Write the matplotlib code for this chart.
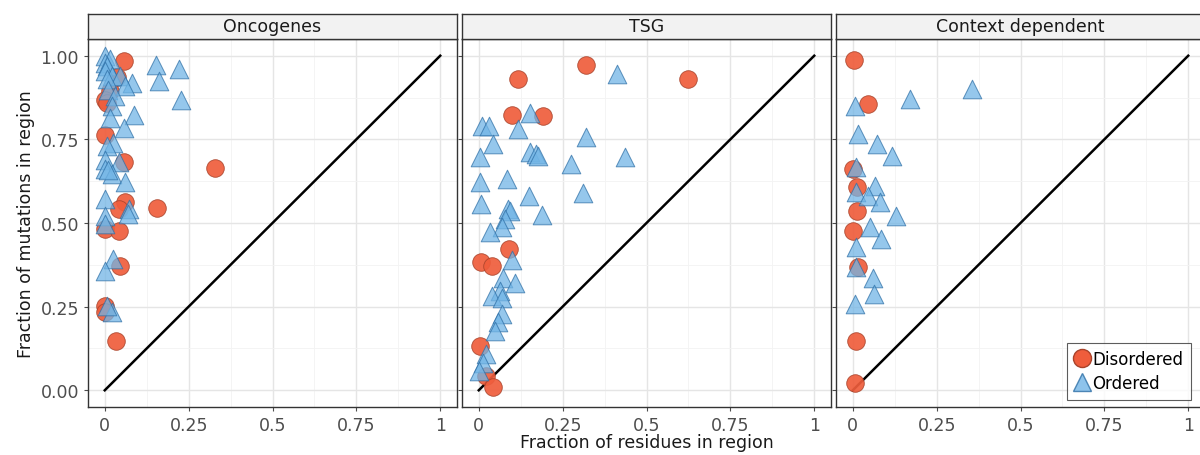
import matplotlib
matplotlib.use("Agg")
import matplotlib.pyplot as plt
from matplotlib.lines import Line2D
import numpy as np

PANELS = ["Oncogenes", "TSG", "Context dependent"]

# Oncogenes
onc_dis_x = [0.056, 0.035, 0.016, 0.001, 0.006, 0.001, 0.056, 0.328, 0.061, 0.155, 0.041,
             0.0, 0.041, 0.046, 0.001, 0.0, 0.033]
onc_dis_y = [0.985, 0.936, 0.894, 0.869, 0.860, 0.764, 0.681, 0.665, 0.562, 0.545, 0.542,
             0.482, 0.477, 0.372, 0.252, 0.233, 0.147]
onc_ord_x = [0.001, 0.016, 0.0, 0.006, 0.001, 0.021, 0.046, 0.081, 0.061, 0.006, 0.011,
             0.031, 0.021, 0.016, 0.086, 0.056, 0.026, 0.006, 0.152, 0.221, 0.161, 0.226,
             0.0, 0.041, 0.001, 0.021, 0.061, 0.001, 0.001, 0.071, 0.001, 0.026, 0.001,
             0.021, 0.006, 0.07, 0.01]
onc_ord_y = [0.999, 0.989, 0.979, 0.969, 0.954, 0.939, 0.939, 0.919, 0.909, 0.929, 0.899,
             0.879, 0.849, 0.814, 0.824, 0.784, 0.740, 0.729, 0.971, 0.959, 0.923, 0.869,
             0.687, 0.681, 0.662, 0.647, 0.622, 0.572, 0.522, 0.542, 0.497, 0.392, 0.357,
             0.233, 0.252, 0.527, 0.657]

# TSG
tsg_dis_x = [0.117, 0.319, 0.625, 0.098, 0.192, 0.09, 0.008, 0.038, 0.003, 0.021, 0.043]
tsg_dis_y = [0.929, 0.973, 0.931, 0.823, 0.821, 0.422, 0.382, 0.372, 0.133, 0.043, 0.011]
tsg_ord_x = [0.413, 0.152, 0.011, 0.031, 0.117, 0.319, 0.041, 0.005, 0.152, 0.172, 0.176,
             0.436, 0.274, 0.003, 0.083, 0.15, 0.311, 0.008, 0.087, 0.187, 0.093, 0.078,
             0.068, 0.033, 0.098, 0.073, 0.107, 0.063, 0.038, 0.068, 0.068, 0.058, 0.048,
             0.023, 0.013, 0.0]
tsg_ord_y = [0.946, 0.829, 0.791, 0.791, 0.781, 0.757, 0.737, 0.697, 0.712, 0.707, 0.700,
             0.697, 0.677, 0.622, 0.632, 0.582, 0.590, 0.557, 0.542, 0.524, 0.537, 0.512,
             0.487, 0.472, 0.389, 0.337, 0.322, 0.297, 0.282, 0.277, 0.228, 0.203, 0.178,
             0.108, 0.083, 0.058]

# Context dependent
ctx_dis_x = [0.003, 0.046, 0.001, 0.014, 0.014, 0.001, 0.016, 0.011, 0.006]
ctx_dis_y = [0.986, 0.856, 0.662, 0.609, 0.537, 0.477, 0.367, 0.148, 0.023]
ctx_ord_x = [0.354, 0.17, 0.008, 0.016, 0.071, 0.117, 0.011, 0.066, 0.011, 0.046, 0.081,
             0.13, 0.051, 0.084, 0.011, 0.011, 0.061, 0.064, 0.006]
ctx_ord_y = [0.901, 0.871, 0.851, 0.766, 0.737, 0.701, 0.667, 0.612, 0.592, 0.582, 0.562,
             0.522, 0.487, 0.452, 0.427, 0.367, 0.337, 0.287, 0.257]

DIS = [(onc_dis_x, onc_dis_y), (tsg_dis_x, tsg_dis_y), (ctx_dis_x, ctx_dis_y)]
ORD = [(onc_ord_x, onc_ord_y), (tsg_ord_x, tsg_ord_y), (ctx_ord_x, ctx_ord_y)]

RED = "#EF5D3C"
RED_EDGE = "#A9432B"
BLUE = "#72B5E6"
BLUE_EDGE = "#2E6FA6"
TICK_COLOR = "#4D4D4D"
W, H = 1200, 456

fig = plt.figure(figsize=(12, 4.56), dpi=100)

lefts = [88, 462, 836]
pw = 369
top, bottom = 40, 408
strip_h = 25
xticks = [0, 0.25, 0.5, 0.75, 1]
xlabels = ["0", "0.25", "0.5", "0.75", "1"]
yticks = [0, 0.25, 0.5, 0.75, 1]
ylabels = ["0.00", "0.25", "0.50", "0.75", "1.00"]

for i, name in enumerate(PANELS):
    ax = fig.add_axes([lefts[i] / W, (H - bottom) / H, pw / W, (bottom - top) / H])
    ax.set_xlim(-0.05, 1.05)
    ax.set_ylim(-0.05, 1.05)
    ax.set_xticks(xticks)
    ax.set_xticklabels(xlabels)
    ax.set_yticks(yticks)
    ax.set_xticks([0.125, 0.375, 0.625, 0.875], minor=True)
    ax.set_yticks([0.125, 0.375, 0.625, 0.875], minor=True)
    if i == 0:
        ax.set_yticklabels(ylabels)
    else:
        ax.set_yticklabels([])
        ax.tick_params(axis="y", length=0)
    ax.grid(True, which="major", color="#E5E5E5", lw=1.0)
    ax.grid(True, which="minor", color="#F3F3F3", lw=0.6)
    ax.set_axisbelow(True)
    ax.tick_params(which="minor", length=0)
    ax.tick_params(which="major", colors=TICK_COLOR, labelsize=12.5, length=3, width=0.8)
    for sp in ax.spines.values():
        sp.set_color("#333333")
        sp.set_linewidth(1.0)

    ax.plot([0, 1], [0, 1], color="black", lw=1.8, zorder=2)
    dx, dy = DIS[i]
    ox, oy = ORD[i]
    ax.scatter(dx, dy, s=160, marker="o", color=RED, edgecolors=RED_EDGE,
               linewidths=0.6, alpha=0.92, zorder=3)
    ax.scatter(ox, oy, s=180, marker="^", color=BLUE, edgecolors=BLUE_EDGE,
               linewidths=0.7, alpha=0.75, zorder=4)

    # facet strip
    sax = fig.add_axes([lefts[i] / W, (H - top) / H, pw / W, strip_h / H])
    sax.set_xticks([])
    sax.set_yticks([])
    sax.set_facecolor("#F2F2F2")
    for sp in sax.spines.values():
        sp.set_color("#333333")
        sp.set_linewidth(1.0)
    sax.text(0.5, 0.5, name, ha="center", va="center", fontsize=12.5, color="#1A1A1A")

    if i == 2:
        handles = [
            Line2D([], [], marker="o", ls="", markersize=13, markerfacecolor=RED,
                   markeredgecolor=RED_EDGE, label="Disordered"),
            Line2D([], [], marker="^", ls="", markersize=13, markerfacecolor=BLUE,
                   markeredgecolor=BLUE_EDGE, alpha=0.8, label="Ordered"),
        ]
        leg = ax.legend(handles=handles, loc="lower right", bbox_to_anchor=(0.962, 0.02),
                        fontsize=12, frameon=True, fancybox=False, handletextpad=0.1,
                        borderpad=0.45, labelspacing=0.35, handlelength=1.0,
                        borderaxespad=0.0)
        leg.get_frame().set_edgecolor("#333333")
        leg.get_frame().set_linewidth(0.8)

fig.text(0.5 * (lefts[0] + lefts[2] + pw) / W, 4 / H, "Fraction of residues in region",
         ha="center", va="bottom", fontsize=12.5, color="#1A1A1A")
fig.text(17 / W, (H - (top + bottom) / 2) / H, "Fraction of mutations in region",
         rotation=90, ha="left", va="center", fontsize=12.5, color="#1A1A1A")

fig.savefig("out.png", dpi=100)
